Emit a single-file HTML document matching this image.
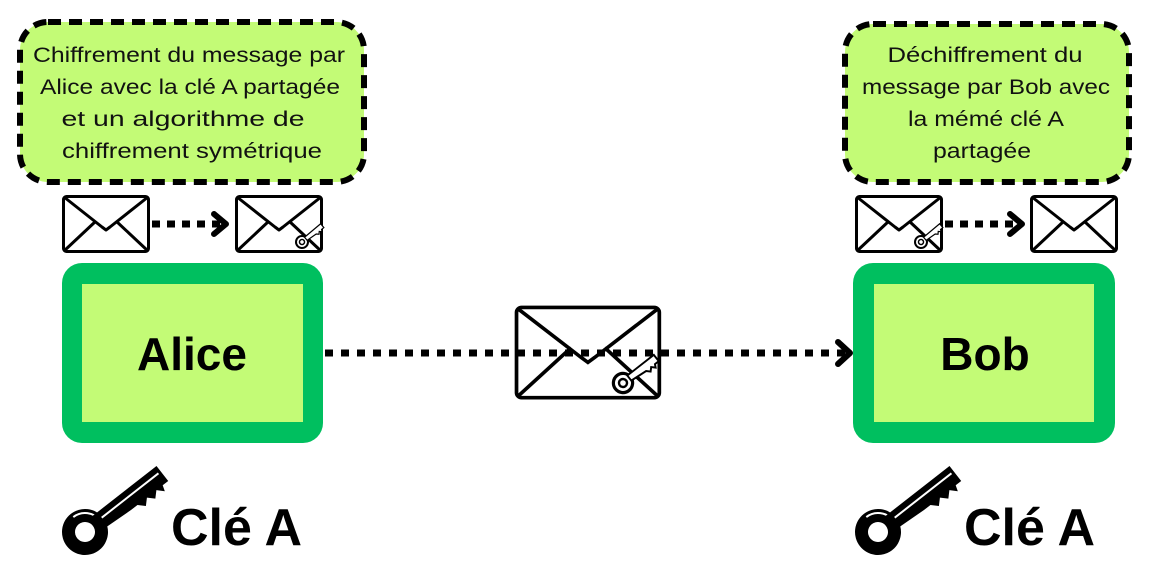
<!DOCTYPE html>
<html><head><meta charset="utf-8"><style>
html,body{margin:0;padding:0;background:#fff;width:1154px;height:572px;overflow:hidden}
text{font-family:"Liberation Sans",sans-serif}
</style></head><body>
<svg width="1154" height="572" viewBox="0 0 1154 572" xmlns="http://www.w3.org/2000/svg">
<defs>
<g id="env">
<rect x="1.5" y="1.5" width="85" height="55" rx="3" fill="#fff" stroke="#000" stroke-width="3"/>
<polyline points="2,2 40,32 44,35 48,32 86,2" fill="none" stroke="#000" stroke-width="3" stroke-linejoin="round"/>
<line x1="2" y1="56" x2="34" y2="26" stroke="#000" stroke-width="3"/>
<line x1="86" y1="56" x2="54" y2="26" stroke="#000" stroke-width="3"/>
</g>
<g id="key">
<circle cx="0" cy="0" r="23" fill="#000"/>
<circle cx="0" cy="0" r="10" fill="#fff"/>
<path d="M0,-19 A19,19 0 0 1 19,0" fill="none" stroke="#fff" stroke-width="2"/>
<path d="M16,-8 L97,-8 L97,11 L90,11 L88,17 L82,11 L76,17 L70,11 L64,17 L58,11 L50,11 L16,9 Z" fill="#000"/>
<line x1="22" y1="-1" x2="94" y2="-1" stroke="#fff" stroke-width="2"/>
</g>
<g id="skey">
<circle cx="0" cy="0" r="6" fill="#fff" stroke="#000" stroke-width="2"/>
<circle cx="0" cy="0" r="2.5" fill="none" stroke="#000" stroke-width="1.5"/>
<path d="M5,-2 L26,-2 L26,3 L23,3 L22,5 L20,3 L18,5 L16,3 L5,2 Z" fill="#fff" stroke="#000" stroke-width="1.2"/>
</g>
</defs>

<!-- notes -->
<rect x="20" y="22" width="344" height="160" rx="28" fill="#c3fb76" stroke="#000" stroke-width="6" stroke-dasharray="13 8"/>
<g font-size="21" text-anchor="middle" fill="#111" lengthAdjust="spacingAndGlyphs">
<text x="189" y="62" textLength="312" lengthAdjust="spacingAndGlyphs">Chiffrement du message par</text>
<text x="190" y="94" textLength="300" lengthAdjust="spacingAndGlyphs">Alice avec la clé A partagée</text>
<text x="183" y="126" textLength="243" lengthAdjust="spacingAndGlyphs">et un algorithme de</text>
<text x="192" y="158" textLength="260" lengthAdjust="spacingAndGlyphs">chiffrement symétrique</text>
</g>
<rect x="845" y="24" width="284" height="158" rx="28" fill="#c3fb76" stroke="#000" stroke-width="6" stroke-dasharray="13 8"/>
<g font-size="21" text-anchor="middle" fill="#111">
<text x="985" y="62" textLength="195" lengthAdjust="spacingAndGlyphs">Déchiffrement du</text>
<text x="986" y="94" textLength="248" lengthAdjust="spacingAndGlyphs">message par Bob avec</text>
<text x="986" y="126" textLength="156" lengthAdjust="spacingAndGlyphs">la mémé clé A</text>
<text x="982" y="158" textLength="98" lengthAdjust="spacingAndGlyphs">partagée</text>
</g>

<!-- small envelopes -->
<use href="#env" x="62" y="195"/>
<use href="#env" x="235" y="195"/>
<use href="#skey" transform="translate(302,242) rotate(-40)"/>
<use href="#env" x="855" y="195"/>
<use href="#skey" transform="translate(921,242) rotate(-40)"/>
<use href="#env" x="1030" y="195"/>

<line x1="152" y1="224" x2="222" y2="224" stroke="#000" stroke-width="7" stroke-dasharray="8 7"/>
<polyline points="214,214 226,224 214,234" fill="none" stroke="#000" stroke-width="6" stroke-linecap="round" stroke-linejoin="round"/>
<line x1="945" y1="224" x2="1015" y2="224" stroke="#000" stroke-width="7" stroke-dasharray="8 7"/>
<polyline points="1010,214 1022,224 1010,234" fill="none" stroke="#000" stroke-width="6" stroke-linecap="round" stroke-linejoin="round"/>

<!-- boxes -->
<rect x="62" y="263" width="261" height="180" rx="20" fill="#00bf5f"/>
<rect x="82" y="284" width="221" height="138" fill="#c3fb76"/>
<text x="192" y="370" font-size="46" font-weight="bold" text-anchor="middle">Alice</text>
<rect x="853" y="263" width="262" height="180" rx="20" fill="#00bf5f"/>
<rect x="874" y="284" width="220" height="138" fill="#c3fb76"/>
<text x="985" y="370" font-size="46" font-weight="bold" text-anchor="middle">Bob</text>

<!-- main line -->
<g transform="translate(514,305) scale(1.68,1.64)"><rect x="1.5" y="1.5" width="85" height="55" rx="3" fill="#fff" stroke="#000" stroke-width="2.2"/>
<polyline points="2,2 40,32 44,35 48,32 86,2" fill="none" stroke="#000" stroke-width="2.2"/>
<line x1="2" y1="56" x2="34" y2="26" stroke="#000" stroke-width="2.2"/>
<line x1="86" y1="56" x2="54" y2="26" stroke="#000" stroke-width="2.2"/></g>
<line x1="325" y1="353" x2="848" y2="353" stroke="#000" stroke-width="7" stroke-dasharray="8 8"/>
<use href="#skey" transform="translate(623,383) rotate(-38) scale(1.6)"/>
<polyline points="838,342 850,353 838,364" fill="none" stroke="#000" stroke-width="6" stroke-linecap="round" stroke-linejoin="round"/>

<!-- keys -->
<use href="#key" transform="translate(85,532) rotate(-38)"/>
<text x="171" y="545" font-size="52" font-weight="bold">Clé A</text>
<use href="#key" transform="translate(878,532) rotate(-38)"/>
<text x="964" y="545" font-size="52" font-weight="bold">Clé A</text>
</svg>
</body></html>
